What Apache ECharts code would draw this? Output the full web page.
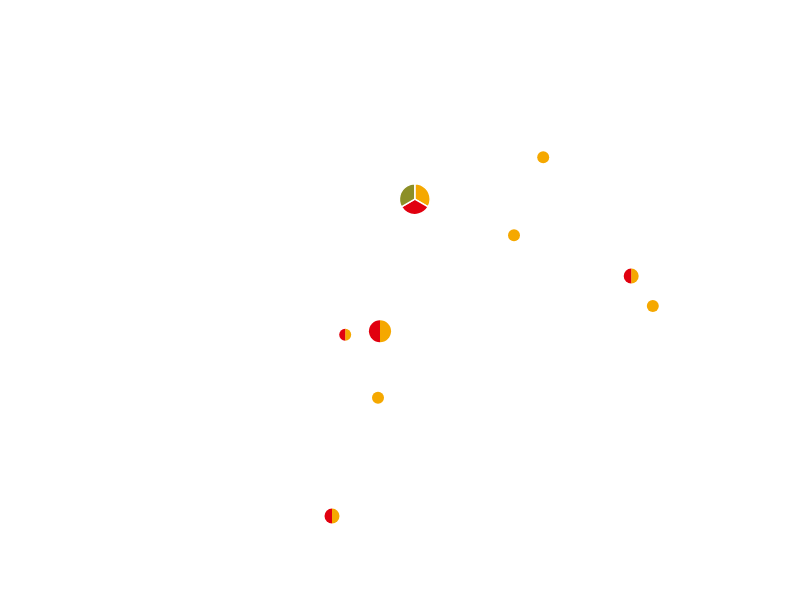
<!DOCTYPE html>
<html>
<head>
<meta charset="utf-8">
<script src="https://cdn.jsdelivr.net/npm/echarts@6/dist/echarts.min.js"></script>
<style>html,body{margin:0;padding:0;background:#fff}#main{width:800px;height:600px}</style>
</head>
<body>
<div id="main"></div>
<script>
// Location coordinates (abstract plane, 0-100)
const locX = [51.85, 47.5, 43.15, 78.9, 41.5, 67.9, 64.25, 81.6, 47.25];
const locY = [66.8, 44.8, 44.2, 54.0, 14.0, 73.8, 60.8, 49.0, 33.7];
// Series values per location
const orangeVals = [2.2, 1.7, 0.5, 0.78, 0.78, 1, 1, 1, 1];
const redVals    = [2.2, 1.7, 0.5, 0.78, 0.78, 0, 0, 0, 0];
const oliveVals  = [2.2, 0,   0,   0,    0,    0, 0, 0, 0];

const colors = ['#F5A800', '#E1000F', '#8C8F27'];
const chart = echarts.init(document.getElementById('main'));
chart.setOption({
  animation: false,
  backgroundColor: '#fff',
  grid: {left: 0, right: 0, top: 0, bottom: 0},
  xAxis: {type: 'value', min: 0, max: 100, show: false},
  yAxis: {type: 'value', min: 0, max: 100, show: false},
  series: [{type: 'scatter', data: [], silent: true}]
});
const series = [{type: 'scatter', data: [], silent: true}];
for (let i = 0; i < locX.length; i++) {
  const center = chart.convertToPixel({gridIndex: 0}, [locX[i], locY[i]]);
  const vals = [orangeVals[i], redVals[i], oliveVals[i]];
  const total = vals.reduce((a, b) => a + b, 0);
  const r = 6 * Math.sqrt(total);
  const data = [];
  vals.forEach((v, k) => { if (v > 0) data.push({value: v, itemStyle: {color: colors[k]}}); });
  series.push({
    type: 'pie',
    center: center,
    radius: r,
    label: {show: false},
    labelLine: {show: false},
    silent: true,
    itemStyle: {borderColor: '#fff', borderWidth: data.length > 2 ? 1.5 : 0},
    data: data
  });
}
chart.setOption({series: series});
</script>
</body>
</html>
